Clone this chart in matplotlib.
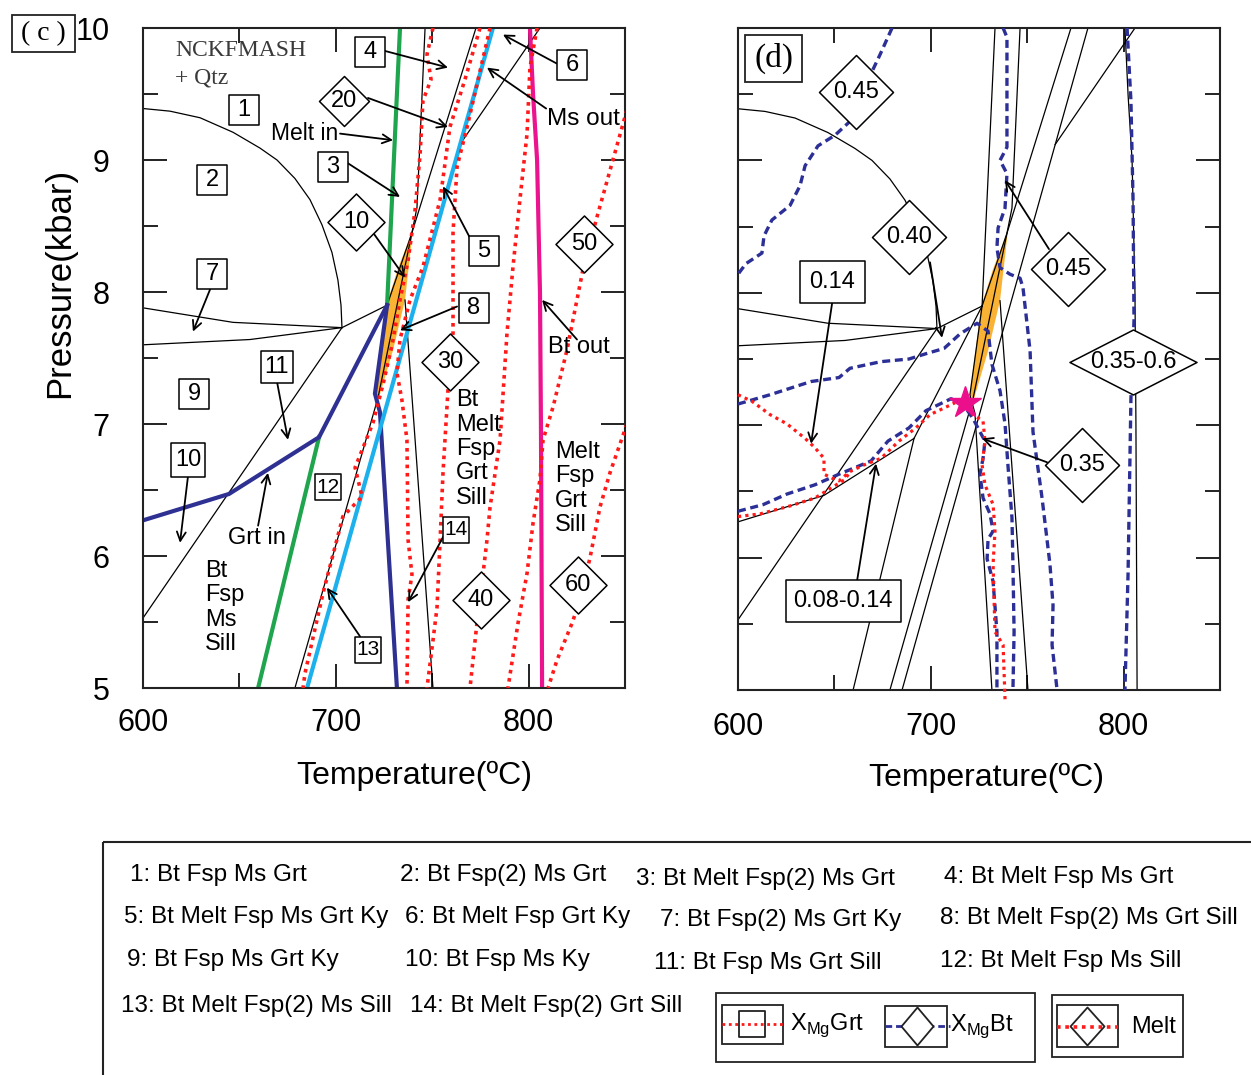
import matplotlib
matplotlib.use("Agg")
import matplotlib.pyplot as plt
from matplotlib.path import Path
from matplotlib.patches import Rectangle, Polygon
from matplotlib.ticker import MultipleLocator

plt.rcParams.update({
    "font.family": ["Liberation Sans", "DejaVu Sans"],
    "font.size": 17,
    "axes.linewidth": 1.5,
    "axes.edgecolor": "#222222",
})
SERIF = "Liberation Serif"
PX = 0.72  # points per pixel at dpi=100

GREEN, CYAN, MAGENTA, NAVY = "#1fa54d", "#1cb1ec", "#ec138f", "#2e3192"
ORANGE, RED, BLUE = "#f9b233", "#ff1a1a", "#2b2f96"
DOT = (0, (1.0, 1.3))
DASH = (0, (2.4, 1.4))

# ── Reaction lines (T degC, P kbar) ─────────────────────────────────────────
melt_in_hi_T = [733.3, 726.6]
melt_in_hi_P = [10.0, 7.90]
melt_in_lo_T = [691.3, 659.7]
melt_in_lo_P = [6.90, 5.00]
grt_in_T = [600.0, 644.6, 691.3, 726.6]
grt_in_P = [6.27, 6.47, 6.90, 7.90]
grt_in2_T = [726.6, 720.3, 722.9, 731.7]
grt_in2_P = [7.90, 7.23, 7.09, 5.00]
ms_out_T = [781.5, 685.1]
ms_out_P = [10.0, 5.0]
bt_out_T = [800.7, 802.3, 804.4, 805.9, 806.4, 807.0]
bt_out_P = [10.0, 9.5, 9.0, 8.0, 7.0, 5.0]

arc_T = [600.0, 614.0, 629.6, 646.7, 660.7, 669.5, 678.8, 686.6, 692.8, 698.0,
         701.1, 702.7, 703.2]
arc_P = [9.39, 9.37, 9.32, 9.21, 9.09, 9.00, 8.86, 8.70, 8.51, 8.30,
         8.09, 7.90, 7.73]
ky1_T = [600.0, 646.7, 703.2]
ky1_P = [7.88, 7.77, 7.73]
ky2_T = [600.0, 655.5, 703.2, 726.6]
ky2_P = [7.60, 7.64, 7.73, 7.90]
sill_T = [600.0, 703.2]
sill_P = [5.53, 7.73]
top1_T = [746.3, 742.1, 739.5, 726.6]
top1_P = [10.0, 8.64, 8.45, 7.90]
la_T = [772.7, 739.5, 721.9, 678.8]
la_P = [10.0, 8.45, 7.20, 5.0]
lr_T = [735.9, 750.4]
lr_P = [7.94, 5.0]
k5_T = [805.9, 764.5]
k5_P = [10.0, 9.12]

# melt-bearing field (orange)
liq_T = [740.0, 735.9, 729.7, 722.4, 720.3, 723.5, 726.0, 732.3]
liq_P = [8.47, 7.94, 7.56, 7.20, 7.23, 7.60, 7.89, 8.18]

# ── Melt isopleths, panel (c) ───────────────────────────────────────────────
m10_T = [750.4, 747.3, 749.4, 745.2, 743.7, 741.1, 737.5, 733.3, 729.2, 724.5,
         719.3, 715.2, 710.0, 713.6, 703.7, 693.4, 684.0, 683.0]
m10_P = [10.00, 9.80, 9.61, 9.45, 9.04, 8.62, 8.24, 7.94, 7.60, 7.30,
         7.01, 6.86, 6.67, 6.45, 6.30, 5.72, 5.11, 5.00]
m20_T = [774.8, 767.0, 759.2, 754.1, 745.2, 738.5, 733.3, 731.7, 734.3, 736.9,
         737.5, 739.5, 737.5, 736.9]
m20_P = [10.0, 9.61, 9.25, 8.70, 8.19, 7.94, 7.64, 7.39, 7.18, 6.88,
         6.12, 5.86, 5.67, 5.00]
m30_T = [780.0, 773.8, 768.1, 762.9, 760.8, 760.8, 758.2, 755.6, 754.1, 752.5, 750.4, 747.3]
m30_P = [10.0, 9.61, 9.25, 8.95, 8.45, 7.69, 7.26, 6.63, 6.12, 5.61, 5.36, 5.00]
m40_T = [804.4, 800.7, 799.2, 795.5, 791.9, 788.8, 785.2, 780.0, 778.4, 776.4, 773.2, 769.6]
m40_P = [10.0, 9.70, 9.20, 8.70, 8.19, 7.69, 6.88, 6.37, 6.12, 5.87, 5.49, 5.00]
m50_T = [851.0, 842.2, 835.5, 828.2, 819.9, 812.7, 807.5, 805.9, 802.3, 799.2, 794.5, 789.3]
m50_P = [9.38, 8.92, 8.57, 8.17, 7.56, 7.13, 6.88, 6.58, 6.25, 5.87, 5.49, 5.00]
m60_T = [851.0, 842.2, 837.0, 831.9, 826.7, 822.5, 814.7, 810.1]
m60_P = [7.00, 6.63, 6.37, 5.99, 5.67, 5.49, 5.21, 5.00]

# ── XMg isopleths, panel (d) ────────────────────────────────────────────────
bt45a_T = [679.9, 673.7, 668.5, 660.7, 650.3, 641.5, 634.8, 632.2, 627.0, 617.6,
           613.5, 612.4, 604.1, 600.0]
bt45a_P = [10.0, 9.80, 9.64, 9.33, 9.19, 9.11, 8.96, 8.81, 8.66, 8.55,
           8.43, 8.30, 8.22, 8.14]
bt45b_T = [737.5, 739.5, 739.5, 735.9, 739.5, 738.5, 734.9, 734.3, 735.9, 741.1,
           746.3, 747.8, 751.5, 753.0, 757.7, 761.8, 763.4, 762.9, 765.5]
bt45b_P = [10.0, 9.93, 9.10, 9.00, 8.90, 8.64, 8.49, 8.34, 8.19, 8.14,
           8.11, 8.04, 7.56, 6.95, 6.45, 5.95, 5.64, 5.34, 5.00]
bt40_T = [600.0, 616.6, 637.9, 652.4, 658.1, 674.2, 688.7, 697.5, 706.9, 715.2,
          724.0, 729.7, 731.7, 735.9, 738.5, 740.0, 742.1, 742.6, 743.2, 742.6]
bt40_P = [7.16, 7.23, 7.33, 7.36, 7.43, 7.48, 7.50, 7.54, 7.58, 7.69,
          7.77, 7.71, 7.46, 7.26, 7.01, 6.70, 6.30, 5.95, 5.44, 5.00]
bt35_T = [600.0, 613.0, 625.4, 639.9, 652.4, 669.0, 677.8, 688.7, 697.5, 710.5,
          716.7, 721.9, 725.5, 728.1, 727.1, 725.5, 727.1, 730.7, 732.3, 729.7,
          729.2, 732.3, 734.3, 734.3]
bt35_P = [6.35, 6.40, 6.48, 6.55, 6.63, 6.73, 6.88, 6.98, 7.11, 7.20,
          7.16, 7.05, 6.95, 6.88, 6.75, 6.63, 6.45, 6.33, 6.20, 6.14,
          5.99, 5.82, 5.44, 5.00]
bt60_T = [801.8, 803.8, 804.9, 805.4, 803.8, 802.3, 800.7]
bt60_P = [10.0, 9.45, 8.70, 7.79, 7.20, 5.87, 5.00]
grt14_T = [600.0, 607.3, 616.6, 625.4, 634.8, 639.9, 644.6, 644.6, 648.8, 652.4,
           658.1, 665.4, 674.2, 683.5, 692.3, 699.6, 706.9, 712.6, 717.7, 721.9,
           727.1, 728.1, 726.6, 728.1, 732.3, 733.3, 732.3, 733.3, 737.5, 738.5]
grt14_P = [7.23, 7.18, 7.08, 7.01, 6.90, 6.83, 6.75, 6.63, 6.60, 6.58,
           6.65, 6.70, 6.75, 6.88, 6.98, 7.08, 7.13, 7.17, 7.14, 7.08,
           7.03, 6.88, 6.70, 6.55, 6.40, 6.20, 5.95, 5.44, 5.34, 4.93]
grt08_T = [600.0, 611.4, 627.0, 639.9, 648.8, 655.5, 658.1]
grt08_P = [6.31, 6.33, 6.39, 6.45, 6.53, 6.59, 6.65]
star_T = [717.7]
star_P = [7.17]

# ── Labels, panel (c) ───────────────────────────────────────────────────────
c_box_text = ["1", "2", "3", "4", "5", "6", "7", "8", "9", "10", "11", "12", "13", "14"]
c_box_T = [652.4, 635.8, 698.6, 717.7, 776.9, 822.5, 635.8, 771.7, 626.5, 623.3,
           669.5, 696.0, 716.7, 762.4]
c_box_P = [9.38, 8.85, 8.95, 9.82, 8.31, 9.72, 8.14, 7.88, 7.23, 6.73,
           7.43, 6.52, 5.29, 6.20]
c_dia_text = ["20", "10", "30", "50", "40", "60"]
c_dia_T = [704.3, 710.5, 759.2, 828.7, 775.3, 825.6]
c_dia_P = [9.45, 8.53, 7.47, 8.36, 5.67, 5.78]

# arrows: tail -> head
c_tail_T = [724.5, 705.8, 719.3, 716.7, 814.7, 809.1, 769.6, 762.9, 702.2, 825.1,
            634.8, 669.5, 623.3, 659.7, 712.6, 756.6]
c_tail_P = [9.83, 8.98, 8.45, 9.47, 9.73, 9.39, 8.41, 7.89, 9.20, 7.64,
            8.02, 7.32, 6.60, 6.23, 5.39, 6.17]
c_head_T = [758.2, 733.3, 735.9, 758.2, 786.7, 778.4, 755.6, 733.3, 729.7, 807.0,
            625.9, 675.2, 619.2, 664.8, 695.4, 737.5]
c_head_P = [9.70, 8.72, 8.11, 9.25, 9.95, 9.70, 8.80, 7.71, 9.15, 7.94,
            7.70, 6.88, 6.10, 6.63, 5.76, 5.65]

# ── Labels, panel (d) ───────────────────────────────────────────────────────
d_dia_text = ["0.45", "0.40", "0.45", "0.35", "0.35-0.6"]
d_dia_T = [661.2, 688.7, 771.2, 778.4, 804.9]
d_dia_P = [9.52, 8.42, 8.18, 6.70, 7.48]
d_box_text = ["0.14", "0.08-0.14"]
d_box_T = [648.8, 654.5]
d_box_P = [8.08, 5.67]
d_tail_T = [648.8, 699.6, 761.3, 760.3, 661.7]
d_tail_P = [7.92, 8.23, 8.33, 6.72, 5.82]
d_head_T = [637.9, 705.8, 738.5, 726.6, 671.6]
d_head_P = [6.86, 7.66, 8.85, 6.90, 6.71]

# ── Assemblage key ──────────────────────────────────────────────────────────
key_text = ["1: Bt Fsp Ms Grt", "2: Bt Fsp(2) Ms Grt", "3: Bt Melt Fsp(2) Ms Grt",
            "4: Bt Melt Fsp Ms Grt", "5: Bt Melt Fsp Ms Grt Ky", "6: Bt Melt Fsp Grt Ky",
            "7: Bt Fsp(2) Ms Grt Ky", "8: Bt Melt Fsp(2) Ms Grt Sill",
            "9: Bt Fsp Ms Grt Ky", "10: Bt Fsp Ms Ky", "11: Bt Fsp Ms Grt Sill",
            "12: Bt Melt Fsp Ms Sill", "13: Bt Melt Fsp(2) Ms Sill",
            "14: Bt Melt Fsp(2) Grt Sill"]
key_x = [130, 400, 636, 944, 124, 405, 660, 940, 127, 405, 654, 940, 121, 410]
key_y = [875, 875, 879, 877, 917, 917, 920, 918, 960, 960, 963, 961, 1006, 1006]


def diamond(w, h):
    return Path([(0, h), (w, 0), (0, -h), (-w, 0), (0, h)], closed=True)


def rect(w, h):
    return Path([(-w, -h), (w, -h), (w, h), (-w, h), (-w, -h)], closed=True)


def tag(ax, T, P, txt, marker, w_px, fs=17):
    ax.plot([T], [P], marker=marker, ms=w_px * PX, mfc="white", mec="black",
            mew=1.1, ls="none", zorder=6)
    ax.text(T, P, txt, ha="center", va="center", fontsize=fs, zorder=7)


def arrow(ax, tail, head):
    ax.annotate("", xy=head, xytext=tail, zorder=5,
                arrowprops=dict(arrowstyle="->", color="black", lw=1.3,
                                shrinkA=0, shrinkB=0, mutation_scale=16))


def frame(ax, xpad):
    ax.set_xlim(600, 850)
    ax.set_ylim(5, 10)
    ax.xaxis.set_major_locator(MultipleLocator(100))
    ax.xaxis.set_minor_locator(MultipleLocator(50))
    ax.yaxis.set_major_locator(MultipleLocator(1))
    ax.yaxis.set_minor_locator(MultipleLocator(0.5))
    ax.tick_params(which="both", direction="in", top=True, right=True,
                   width=1.4, color="#222222", labelsize=22)
    ax.tick_params(which="major", length=17)
    ax.tick_params(which="minor", length=11)
    ax.tick_params(axis="x", pad=xpad)
    ax.tick_params(axis="y", pad=24)


thin_lines = [(arc_T, arc_P), (ky1_T, ky1_P), (ky2_T, ky2_P), (sill_T, sill_P),
              (top1_T, top1_P), (la_T, la_P), (lr_T, lr_P), (k5_T, k5_P)]
bold_lines = [(melt_in_hi_T, melt_in_hi_P, GREEN), (melt_in_lo_T, melt_in_lo_P, GREEN),
              (grt_in_T, grt_in_P, NAVY), (grt_in2_T, grt_in2_P, NAVY),
              (ms_out_T, ms_out_P, CYAN), (bt_out_T, bt_out_P, MAGENTA)]

fig = plt.figure(figsize=(12.51, 10.75), dpi=100)
ax_c = fig.add_axes([143 / 1251, 387 / 1075, 482 / 1251, 660 / 1075])
ax_d = fig.add_axes([738 / 1251, 385 / 1075, 482 / 1251, 662 / 1075])
frame(ax_c, 14.5)
frame(ax_d, 16)
ax_d.tick_params(labelleft=False)

# ── panel (c) ───────────────────────────────────────────────────────────────
ax_c.add_patch(Polygon(list(zip(liq_T, liq_P)), closed=True, fc=ORANGE, ec="none", zorder=1.5))
for T, P in thin_lines:
    ax_c.plot(T, P, color="black", lw=0.9, zorder=2)
for T, P, col in bold_lines:
    ax_c.plot(T, P, color=col, lw=3.0, zorder=2.5, solid_joinstyle="miter")
for T, P in [(m10_T, m10_P), (m20_T, m20_P), (m30_T, m30_P),
             (m40_T, m40_P), (m50_T, m50_P), (m60_T, m60_P)]:
    ax_c.plot(T, P, color=RED, lw=2.6, ls=DOT, zorder=3)

box_size = {"10": 34, "11": 32, "12": 27, "13": 27, "14": 27}
for txt, T, P in zip(c_box_text, c_box_T, c_box_P):
    w = box_size.get(txt, 30)
    tag(ax_c, T, P, txt, rect(1, 1), w, fs=15 if w == 27 else 17)
for txt, T, P in zip(c_dia_text, c_dia_T, c_dia_P):
    tag(ax_c, T, P, txt, diamond(1, 1), 50 if txt == "20" else 57)
for tT, tP, hT, hP in zip(c_tail_T, c_tail_P, c_head_T, c_head_P):
    arrow(ax_c, (tT, tP), (hT, hP))

ax_c.text(701.1, 9.20, "Melt in", ha="right", va="center", fontsize=16.5, zorder=7)
ax_c.text(809.6, 9.31, "Ms out", ha="left", va="center", fontsize=17.5, zorder=7)
ax_c.text(810.1, 7.58, "Bt out", ha="left", va="center", fontsize=17, zorder=7)
ax_c.text(644.1, 6.14, "Grt in", ha="left", va="center", fontsize=17, zorder=7)
ax_c.text(632.2, 5.61, "Bt\nFsp\nMs\nSill", ha="left", va="center", fontsize=17,
          linespacing=1.14, zorder=7)
ax_c.text(762.4, 6.81, "Bt\nMelt\nFsp\nGrt\nSill", ha="left", va="center", fontsize=17,
          linespacing=1.14, zorder=7)
ax_c.text(813.7, 6.51, "Melt\nFsp\nGrt\nSill", ha="left", va="center", fontsize=17,
          linespacing=1.14, zorder=7)
ax_c.text(616.6, 9.83, "NCKFMASH", family=SERIF, fontsize=17, color="#3a3a3a",
          ha="left", va="center")
ax_c.text(616.6, 9.62, "+ Qtz", family=SERIF, fontsize=17, color="#3a3a3a",
          ha="left", va="center")

# ── panel (d) ───────────────────────────────────────────────────────────────
ax_d.add_patch(Polygon(list(zip(liq_T, liq_P)), closed=True, fc=ORANGE, ec="none", zorder=1.5))
for T, P in thin_lines:
    ax_d.plot(T, P, color="black", lw=0.9, zorder=2)
for T, P, col in bold_lines:
    ax_d.plot(T, P, color="black", lw=0.9, zorder=2)
for T, P in [(bt45a_T, bt45a_P), (bt45b_T, bt45b_P), (bt40_T, bt40_P),
             (bt35_T, bt35_P), (bt60_T, bt60_P)]:
    ax_d.plot(T, P, color=BLUE, lw=2.4, ls=DASH, zorder=3)
ax_d.plot(grt14_T, grt14_P, color=RED, lw=2.3, ls=DOT, zorder=3.2, clip_on=False)
ax_d.plot(grt08_T, grt08_P, color=RED, lw=2.3, ls=DOT, zorder=3.2)
ax_d.plot(star_T, star_P, marker="*", ms=24, color="#ec0f8c", mec="#ec0f8c", ls="none", zorder=8)

for txt, T, P in zip(d_dia_text, d_dia_T, d_dia_P):
    if txt == "0.35-0.6":
        tag(ax_d, T, P, txt, diamond(1, 65 / 127), 127)
    else:
        tag(ax_d, T, P, txt, diamond(1, 1), 74)
tag(ax_d, d_box_T[0], d_box_P[0], d_box_text[0], rect(1, 42 / 65), 65)
tag(ax_d, d_box_T[1], d_box_P[1], d_box_text[1], rect(1, 42 / 115), 115)
for tT, tP, hT, hP in zip(d_tail_T, d_tail_P, d_head_T, d_head_P):
    arrow(ax_d, (tT, tP), (hT, hP))

# ── figure-level overlay in pixel units ─────────────────────────────────────
lg = fig.add_axes([0, 0, 1, 1])
lg.set_xlim(0, 1251)
lg.set_ylim(1075, 0)
lg.axis("off")
lg.patch.set_visible(False)

lg.text(60, 283, "Pressure(kbar)", rotation=90, ha="center", va="center", fontsize=25)
lg.text(414, 776, "Temperature(ºC)", ha="center", va="center", fontsize=23)
lg.text(986, 778, "Temperature(ºC)", ha="center", va="center", fontsize=23)

lg.add_patch(Rectangle((12, 15), 63, 37, fc="white", ec="#222222", lw=1.3))
lg.text(43.5, 33.5, "( c )", family=SERIF, fontsize=20, ha="center", va="center")
lg.add_patch(Rectangle((745, 35), 57, 47, fc="white", ec="#222222", lw=1.3, zorder=4))
lg.text(773.5, 58, "(d)", family=SERIF, fontsize=24, ha="center", va="center", zorder=5)

# key box
lg.add_patch(Rectangle((103, 842), 1200, 300, fill=False, ec="#222222", lw=1.5))
for txt, x, y in zip(key_text, key_x, key_y):
    lg.text(x, y, txt, ha="left", va="center", fontsize=17.5)

lg.add_patch(Rectangle((716, 993), 319, 69, fill=False, ec="#222222", lw=1.3))
lg.add_patch(Rectangle((722, 1005), 61, 39, fill=False, ec="#222222", lw=1.3))
lg.plot([722, 783], [1024, 1024], color=RED, lw=2.0, ls=DOT)
lg.plot([752], [1024], marker=rect(1, 1), ms=27 * PX, mfc="none", mec="#222222", mew=1.3)
lg.text(790, 1025, r"X$_{\mathregular{Mg}}$Grt", ha="left", va="center", fontsize=17)

lg.add_patch(Rectangle((885, 1006), 62, 41, fill=False, ec="#222222", lw=1.3))
lg.plot([885, 950], [1026, 1026], color=BLUE, lw=2.0, ls=DASH)
lg.plot([917], [1026], marker=diamond(32 / 38, 1), ms=38 * PX, mfc="white", mec="#222222", mew=1.3)
lg.text(950, 1026, r"X$_{\mathregular{Mg}}$Bt", ha="left", va="center", fontsize=17)

lg.add_patch(Rectangle((1052, 995), 131, 62, fill=False, ec="#222222", lw=1.3))
lg.add_patch(Rectangle((1057, 1005), 61, 42, fill=False, ec="#222222", lw=1.3))
lg.plot([1057, 1118], [1027, 1027], color=RED, lw=2.6, ls=DOT)
lg.plot([1087], [1026], marker=diamond(34 / 38, 1), ms=38 * PX, mfc="none", mec="#222222", mew=1.3)
lg.text(1131, 1027, "Melt", ha="left", va="center", fontsize=17)

fig.savefig("out.png", dpi=100)
